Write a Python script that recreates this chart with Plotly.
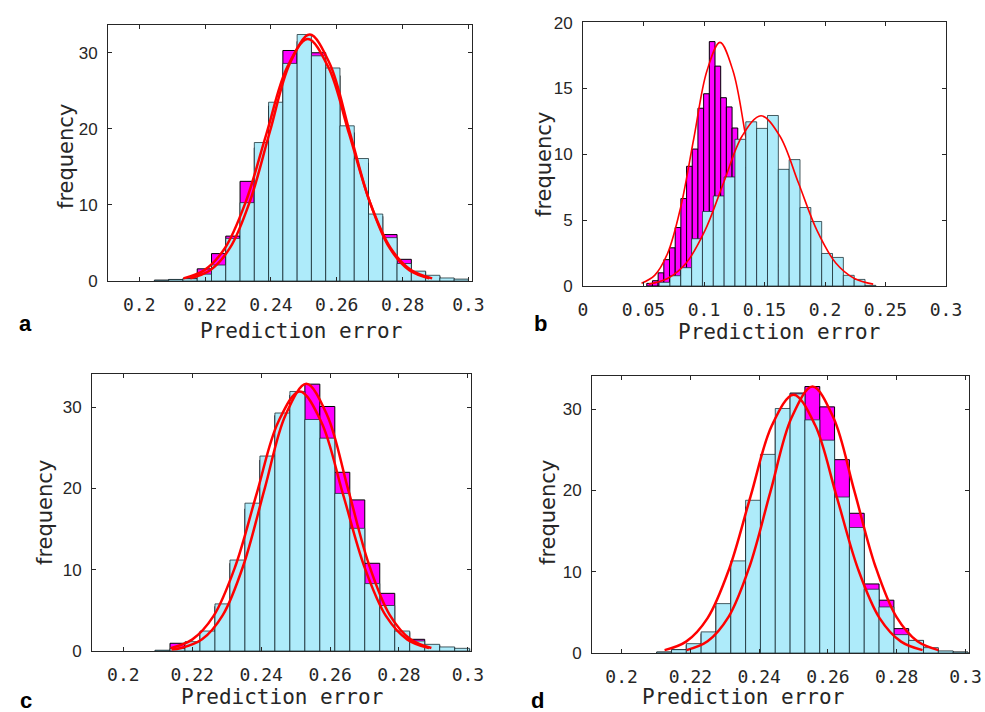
import plotly.graph_objects as go

# ---------------- data ----------------
# panel a
a_bin_start = 0.2046
a_bin_width = 0.004337
a_cyan = [0.1, 0.2, 0.3, 0.9, 2.1, 5.6, 10.3, 18.2, 23.5, 28.6, 32.4, 29.6, 28.0,
          20.4, 16.1, 8.8, 5.7, 2.3, 1.3, 0.75, 0.4, 0.25]
a_magenta = [0.1, 0.2, 0.3, 1.6, 3.6, 5.9, 13.1, 17.5, 23.0, 30.3, 31.5, 30.0, 27.0,
             19.5, 15.5, 8.5, 6.1, 2.85, 1.2, 0.6, 0.3, 0.2]
a_fit1_x = [0.2155, 0.22155, 0.2276, 0.23365, 0.2397, 0.24575, 0.2518, 0.25785,
            0.2639, 0.26995, 0.276, 0.28205, 0.2881]
a_fit1_y = [0.36, 1.42, 4.38, 10.52, 19.65, 28.59, 32.4, 28.59, 19.65, 10.52, 4.38, 1.42, 0.36]
a_fit2_x = [0.2134, 0.2197, 0.226, 0.2323, 0.2386, 0.2449, 0.2512, 0.2575, 0.2638,
            0.2701, 0.2764, 0.2827, 0.289]
a_fit2_y = [0.35, 1.40, 4.30, 10.33, 19.29, 28.06, 31.8, 28.06, 19.29, 10.33, 4.30, 1.40, 0.35]

# panel b
b_cyan_start = 0.0629
b_cyan_width = 0.008957
b_cyan = [0.28, 0.78, 1.39, 3.59, 5.66, 6.84, 8.28, 11.14, 12.47, 11.97, 12.95, 8.86,
          9.6, 5.96, 4.9, 2.47, 2.17, 0.81, 0.5, 0.05]
b_mag_start = 0.0527
b_mag_width = 0.0047
b_magenta = [0.2, 0.4, 1.0, 2.0, 2.9, 4.44, 6.64, 9.09, 10.4, 13.5, 14.6, 18.56, 16.7,
             14.3, 13.6, 12.0, 10.5, 9.0, 7.0, 5.5, 4.0, 3.0, 2.0, 1.2, 0.6, 0.3]
b_fitm_x = [0.0484, 0.0592, 0.07, 0.0808, 0.0916, 0.1024, 0.1132, 0.124, 0.1348,
            0.1456, 0.1564, 0.1672, 0.178]
b_fitm_y = [0.21, 0.81, 2.50, 6.01, 11.22, 16.33, 18.5, 16.33, 11.22, 6.01, 2.50, 0.81, 0.21]
b_fitc_x = [0.0544, 0.06985, 0.0853, 0.10075, 0.1162, 0.13165, 0.1471, 0.16255, 0.178,
            0.19345, 0.2089, 0.22435, 0.2398]
b_fitc_y = [0.14, 0.57, 1.75, 4.20, 7.84, 11.41, 12.93, 11.41, 7.84, 4.20, 1.75, 0.57, 0.14]

# panel c
c_bin_start = 0.2092
c_bin_width = 0.004348
c_cyan = [0.1, 0.3, 1.15, 2.46, 5.8, 11.2, 18.2, 24.0, 29.3, 31.95, 28.5, 26.2, 19.4,
          15.1, 8.3, 5.6, 2.46, 1.23, 0.82, 0.5, 0.33]
c_magenta = [0.05, 0.95, 1.0, 2.3, 5.5, 10.8, 17.5, 23.5, 29.0, 31.5, 32.85, 30.1, 22.0,
             18.6, 10.8, 7.1, 2.3, 1.44, 0.7, 0.4, 0.2]
c_fit1_x = [0.2137, 0.21995, 0.2262, 0.23245, 0.2387, 0.24495, 0.2512, 0.25745, 0.2637,
            0.26995, 0.2762, 0.28245, 0.2887]
c_fit1_y = [0.35, 1.40, 4.32, 10.37, 19.38, 28.20, 31.95, 28.20, 19.38, 10.37, 4.32, 1.40, 0.35]
c_fit2_x = [0.2140, 0.2168, 0.22285, 0.2289, 0.23495, 0.241, 0.24705, 0.2531, 0.25915,
            0.2652, 0.27125, 0.2773, 0.28335, 0.2894]
c_fit2_y = [0.2, 0.37, 1.44, 4.45, 10.68, 19.95, 29.03, 32.9, 29.03, 19.95, 10.68, 4.45, 1.44, 0.37]

# panel d
d_bin_start = 0.2102
d_bin_width = 0.00431
d_cyan = [0.12, 0.41, 1.15, 2.6, 6.08, 11.34, 18.8, 24.45, 30.1, 31.9, 28.7, 26.2, 19.2,
          15.45, 7.85, 5.67, 2.26, 1.56, 0.66, 0.25, 0.12]
d_magenta = [0.1, 0.4, 1.0, 2.4, 5.8, 10.8, 18.0, 23.5, 29.0, 32.0, 32.8, 30.3, 23.8,
             17.2, 8.5, 6.5, 3.0, 1.5, 0.5, 0.2, 0.1]
d_fit1_x = [0.2125, 0.21875, 0.225, 0.23125, 0.2375, 0.24375, 0.25, 0.25625, 0.2625,
            0.26875, 0.275, 0.28125, 0.2875]
d_fit1_y = [0.35, 1.40, 4.30, 10.33, 19.29, 28.06, 31.8, 28.06, 19.29, 10.33, 4.30, 1.40, 0.35]
d_fit2_x = [0.2189, 0.2250, 0.2311, 0.2372, 0.2433, 0.2494, 0.2555, 0.2616, 0.2677,
            0.2738, 0.2799, 0.286, 0.2921]
d_fit2_y = [0.36, 1.44, 4.44, 10.65, 19.89, 28.95, 32.8, 28.95, 19.89, 10.65, 4.44, 1.44, 0.36]

tick_x_ab = [0.2, 0.22, 0.24, 0.26, 0.28, 0.3]
tick_x_ab_text = ["0.2", "0.22", "0.24", "0.26", "0.28", "0.3"]
tick_x_b = [0, 0.05, 0.1, 0.15, 0.2, 0.25, 0.3]
tick_x_b_text = ["0", "0.05", "0.1", "0.15", "0.2", "0.25", "0.3"]
tick_y_30 = [0, 10, 20, 30]
tick_y_20 = [0, 5, 10, 15, 20]

# ---------------- styling ----------------
W, H = 985, 712
CYAN = "#AEEBFA"
CYAN_EDGE = "rgba(20,40,45,0.75)"
MAG = "#FF00FF"
MAG_EDGE = "#000000"
AXC = "#262626"

fig = go.Figure()


def bars(start, width, vals, color, edge, xa, ya):
    lefts = [start + i * width for i in range(len(vals))]
    return go.Bar(x=lefts, y=vals, width=width, offset=0,
                  marker=dict(color=color, line=dict(color=edge, width=1)),
                  xaxis=xa, yaxis=ya, showlegend=False, hoverinfo="skip")


def curve(x, y, xa, ya, w):
    return go.Scatter(x=x, y=y, mode="lines",
                      line=dict(color="#FF0000", width=w, shape="spline", smoothing=1.0),
                      xaxis=xa, yaxis=ya, showlegend=False, hoverinfo="skip")


# panel a
fig.add_trace(bars(a_bin_start, a_bin_width, a_magenta, MAG, MAG_EDGE, "x", "y"))
fig.add_trace(bars(a_bin_start, a_bin_width, a_cyan, CYAN, CYAN_EDGE, "x", "y"))
fig.add_trace(curve(a_fit2_x, a_fit2_y, "x", "y", 2.5))
fig.add_trace(curve(a_fit1_x, a_fit1_y, "x", "y", 2.5))

# panel b (magenta + its fit underneath, cyan on overlay axis)
fig.add_trace(bars(b_mag_start, b_mag_width, b_magenta, MAG, MAG_EDGE, "x2", "y2"))
fig.add_trace(curve(b_fitm_x, b_fitm_y, "x2", "y2", 1.6))
fig.add_trace(bars(b_cyan_start, b_cyan_width, b_cyan, CYAN, CYAN_EDGE, "x2", "y5"))
fig.add_trace(curve(b_fitc_x, b_fitc_y, "x2", "y5", 1.6))

# panel c
fig.add_trace(bars(c_bin_start, c_bin_width, c_magenta, MAG, MAG_EDGE, "x3", "y3"))
fig.add_trace(bars(c_bin_start, c_bin_width, c_cyan, CYAN, CYAN_EDGE, "x3", "y3"))
fig.add_trace(curve(c_fit1_x, c_fit1_y, "x3", "y3", 2.5))
fig.add_trace(curve(c_fit2_x, c_fit2_y, "x3", "y3", 2.5))

# panel d
fig.add_trace(bars(d_bin_start, d_bin_width, d_magenta, MAG, MAG_EDGE, "x4", "y4"))
fig.add_trace(bars(d_bin_start, d_bin_width, d_cyan, CYAN, CYAN_EDGE, "x4", "y4"))
fig.add_trace(curve(d_fit1_x, d_fit1_y, "x4", "y4", 2.5))
fig.add_trace(curve(d_fit2_x, d_fit2_y, "x4", "y4", 2.5))


def px_dom_x(l, r):
    return [l / W, r / W]


def px_dom_y(t, b):
    return [1 - b / H, 1 - t / H]


xfont = dict(family="DejaVu Sans Mono", size=18, color=AXC)
yfont = dict(family="Liberation Sans, Arial", size=17, color=AXC)


def xax(dom, rng, tv, tt, anchor, standoff=7):
    return dict(domain=dom, range=rng, tickvals=tv, ticktext=tt, anchor=anchor,
                showline=True, linecolor=AXC, linewidth=1, mirror="ticks",
                ticks="inside", ticklen=4, tickcolor=AXC, tickwidth=1,
                showgrid=False, zeroline=False, tickfont=xfont, automargin=False,
                ticklabelstandoff=standoff, fixedrange=True)


def yax(dom, rng, tv, anchor):
    return dict(domain=dom, range=rng, tickvals=tv, anchor=anchor,
                showline=True, linecolor=AXC, linewidth=1, mirror="ticks",
                ticks="inside", ticklen=4, tickcolor=AXC, tickwidth=1,
                showgrid=False, zeroline=False, tickfont=yfont, automargin=False,
                ticklabelstandoff=6, fixedrange=True)


fig.update_layout(
    width=W, height=H, autosize=False,
    margin=dict(l=0, r=0, t=0, b=0, pad=0, autoexpand=False),
    paper_bgcolor="white", plot_bgcolor="white",
    barmode="overlay", bargap=0,
    xaxis=xax(px_dom_x(108, 472), [0.1905, 0.3011], tick_x_ab, tick_x_ab_text, "y"),
    yaxis=yax(px_dom_y(25, 281), [0, 33.65], tick_y_30, "x"),
    xaxis2=xax(px_dom_x(583, 946), [0, 0.3], tick_x_b, tick_x_b_text, "y2"),
    yaxis2=yax(px_dom_y(22, 286), [0, 20.05], tick_y_20, "x2"),
    yaxis5=dict(overlaying="y2", anchor="x2", range=[0, 20.05], visible=False,
                automargin=False, fixedrange=True),
    xaxis3=xax(px_dom_x(92, 471), [0.1909, 0.3009], tick_x_ab, tick_x_ab_text, "y3"),
    yaxis3=yax(px_dom_y(374, 651), [0, 34.1], tick_y_30, "x3"),
    xaxis4=xax(px_dom_x(592, 969), [0.1914, 0.3010], tick_x_ab, tick_x_ab_text, "y4"),
    yaxis4=yax(px_dom_y(376, 653), [0, 34.1], tick_y_30, "x4"),
)

ann = []
title_font = dict(family="DejaVu Sans Mono", size=21, color=AXC)
ylab_font = dict(family="DejaVu Sans", size=21, color=AXC)
letter_font = dict(family="Liberation Sans, Arial", size=22, color="black")

for (px, py) in [(301, 331), (779, 332), (282, 697), (743, 697)]:
    ann.append(dict(text="Prediction error", x=px / W, y=1 - py / H, xref="paper",
                    yref="paper", showarrow=False, font=title_font,
                    xanchor="center", yanchor="middle"))
for (px, py) in [(66, 157), (544, 165), (45, 513), (548, 513)]:
    ann.append(dict(text="frequency", x=px / W, y=1 - py / H, xref="paper",
                    yref="paper", showarrow=False, font=ylab_font, textangle=-90,
                    xanchor="center", yanchor="middle"))
for (t, px, py) in [("a", 25, 323), ("b", 540, 323), ("c", 26, 700), ("d", 537, 700)]:
    ann.append(dict(text="<b>%s</b>" % t, x=px / W, y=1 - py / H, xref="paper",
                    yref="paper", showarrow=False, font=letter_font,
                    xanchor="center", yanchor="middle"))
fig.update_layout(annotations=ann)

fig.write_html(
    "out.html",
    config={"displayModeBar": False, "staticPlot": True},
    post_script="document.body.style.margin='0px';document.body.style.overflow='hidden';",
)
